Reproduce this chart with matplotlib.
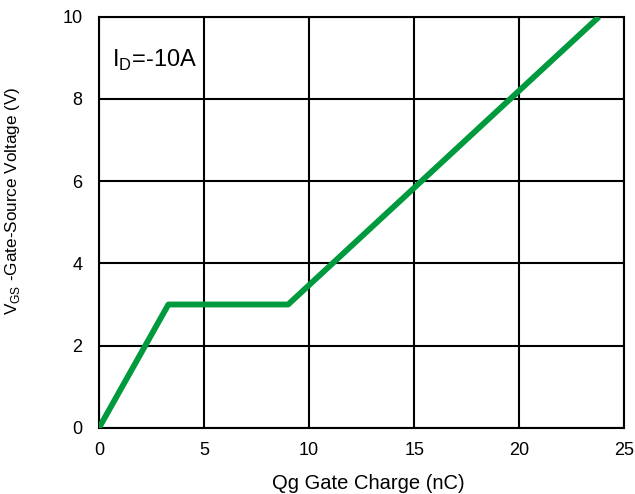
import matplotlib.pyplot as plt

plt.rcParams['font.family'] = ['Liberation Sans', 'DejaVu Sans']

# gate charge curve (nC, V)
qg = [0, 3.3, 9.0, 23.8]
vgs = [0, 3.0, 3.0, 10.0]

xticks = [0, 5, 10, 15, 20, 25]
yticks = [0, 2, 4, 6, 8, 10]

fig = plt.figure(figsize=(6.35, 4.94), dpi=100)
ax = fig.add_axes([0.156, 0.134, 0.827, 0.832])

ax.plot(qg, vgs, color='#009a3e', linewidth=4.2, solid_capstyle='butt', zorder=3)

ax.set_xlim(0, 25)
ax.set_ylim(0, 10)
ax.set_xticks(xticks)
ax.set_yticks(yticks)
ax.grid(True, color='black', linewidth=1.5)
for s in ax.spines.values():
    s.set_linewidth(1.5)
ax.tick_params(length=0, labelsize=13)
ax.tick_params(axis='x', pad=10)
ax.tick_params(axis='y', pad=12)

ax.text(0.025, 0.893, r'I$_\mathregular{D}$=-10A', transform=ax.transAxes,
        fontsize=17, va='center')

ax.set_xlabel('Qg Gate Charge (nC)', fontsize=14.5)
ax.set_ylabel(r'V$_\mathregular{GS}$ -Gate-Source Voltage (V)', fontsize=12.3)
ax.xaxis.set_label_coords(0.513, -0.113)
ax.yaxis.set_label_coords(-0.147, 0.552)

fig.savefig('out.png', dpi=100)
